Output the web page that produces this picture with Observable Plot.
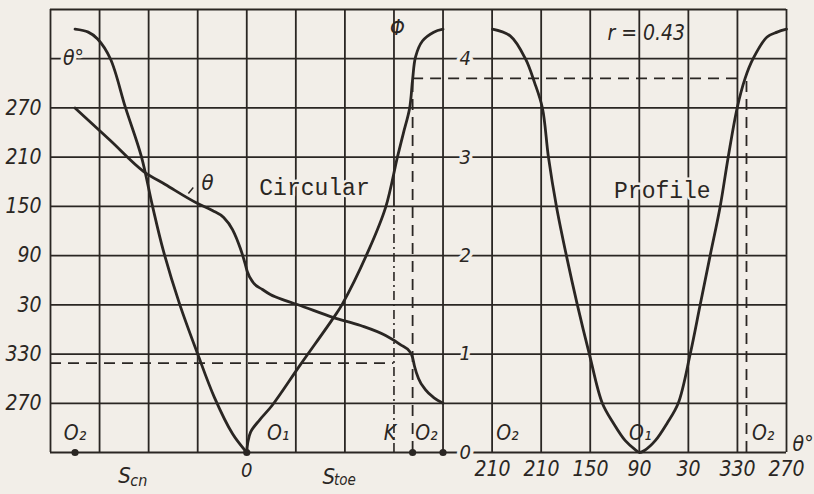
<!DOCTYPE html>
<html>
<head>
<meta charset="utf-8">
<script src="https://cdn.jsdelivr.net/npm/d3@7"></script>
<script src="https://cdn.jsdelivr.net/npm/@observablehq/plot@0.6"></script>
<style>
  body { margin: 0; background: #f2eee8; }
  #chart { position: relative; width: 814px; height: 494px; background: #f2eee8; }
  #chart svg { position: absolute; left: 0; top: 0; }
</style>
</head>
<body>
<div id="chart"></div>
<script>
// ---------- data ----------
// Circular cam: Phi vs stroke S (two branches meeting at O)
const circPhiLeftS  = [-3.5, -3.23, -3.04, -2.78, -2.47, -2.15, -1.92, -1.70, -1.37, -1.00, -0.66, -0.29, 0];
const circPhiLeft   = [4.30, 4.27, 4.20, 4.00, 3.50, 3.01, 2.50, 2.05, 1.51, 1.00, 0.56, 0.19, 0];
const circPhiRightS = [0, 0.02, 0.08, 0.26, 0.52, 1.09, 1.77, 1.95, 2.48, 2.83, 3.07, 3.19, 3.32, 3.38, 3.44, 3.58, 3.81, 4.0];
const circPhiRight  = [0, 0.10, 0.21, 0.33, 0.48, 0.89, 1.37, 1.51, 2.05, 2.49, 3.00, 3.24, 3.50, 3.79, 4.02, 4.18, 4.27, 4.30];
// Circular cam: theta (deg) vs stroke S
const circThetaS = [-3.5, -2.78, -2.10, -1.66, -1.00, -0.70, -0.47, -0.29, -0.13, -0.04, 0.01, 0.13, 0.32, 0.48, 0.79, 1.03, 1.77, 2.32, 2.83, 3.13, 3.32, 3.38, 3.42, 3.50, 3.64, 3.81, 4.0];
const circTheta  = [270, 230.3, 192.5, 176.7, 153.5, 145.0, 136.4, 121.8, 98.6, 81.6, 70.6, 57.2, 48.7, 42.6, 35.2, 30.4, 14.5, 4.8, -7.4, -18.4, -26.9, -34.3, -45.2, -59.9, -73.3, -83.0, -90];
// Profile cam: Phi vs theta (deg, unwrapped 270 -> -90)
const profTheta = [270, 248.0, 229.7, 218.6, 208.9, 201.5, 191.7, 179.5, 166.1, 151.4, 135.5, 122.1, 107.4, 93.9, 90, 84, 70.7, 56.0, 42.6, 27.9, 15.7, 3.5, -8.8, -18.6, -29.6, -39.3, -49.1, -66.2, -78.5, -90];
const profPhi   = [4.30, 4.23, 4.00, 3.76, 3.50, 3.00, 2.50, 2.00, 1.50, 1.00, 0.50, 0.30, 0.12, 0.02, 0, 0.02, 0.12, 0.30, 0.50, 1.00, 1.50, 2.00, 2.50, 3.00, 3.50, 3.80, 4.00, 4.22, 4.27, 4.30];

// Axis ticks and labels
const thetaTicks = [270, 210, 150, 90, 30, -30, -90];
const thetaTickLabels = ["270", "210", "150", "90", "30", "330", "270"];
const phiTicks = [0, 1, 2, 3, 4];
const phiTickLabels = ["0", "1", "2", "3", "4"];
const profTicks = [270, 210, 150, 90, 30, -30, -90];
const profTickLabels = ["210", "210", "150", "90", "30", "330", "270"];

// Marked points on stroke axis and their labels
const markedS = [-3.5, 0, 3.38, 4];
const circPointLabelS = [-3.5, 0.64, 2.92, 3.66];
const circPointLabels = ["O\u2082", "O\u2081", "K", "O\u2082"];
const profPointLabelTheta = [251.7, 89, -61.4];
const profPointLabels = ["O\u2082", "O\u2081", "O\u2082"];

// Graphical read-out (dashed construction)
const readoutS = 3.38, readoutPhi = 3.80, readoutTheta = -41, kLineS = 3;
const r = 0.43;

// ---------- layout / style ----------
const W = 814, H = 494, MT = 9, MB = 42, ML = 50, MR = 28, PROF_L = 492;
const ink = "#2a2623", paper = "#f2eee8";
const italicFont = "'Liberation Sans Narrow','DejaVu Sans Condensed','Liberation Sans',sans-serif";
const monoFont = "'Liberation Mono','DejaVu Sans Mono',monospace";
const svgStyle = {background: "transparent", overflow: "visible"};
const zip = (xs, ys) => xs.map((x, i) => ({x, y: ys[i]}));
const lbl = (xs, ys, ts) => xs.map((x, i) => ({x, y: Array.isArray(ys) ? ys[i] : ys, t: ts[i]}));

const gridS = d3.range(-4, 12).filter(s => s !== kLineS);
const gridPhi = d3.range(0, 4.51, 0.5);

// ---------- Plot 1: grid, circular Phi(S), Phi axis ----------
const base = Plot.plot({
  width: W, height: H, marginTop: MT, marginBottom: MB, marginLeft: ML, marginRight: MR,
  x: {domain: [-4, 11], axis: null}, y: {domain: [0, 4.5], axis: null},
  style: svgStyle,
  marks: [
    Plot.ruleX(gridS, {y1: 0, y2: 4.5, stroke: ink, strokeWidth: 1.8}),
    Plot.ruleX([kLineS], {y1: 2.5, y2: 4.5, stroke: ink, strokeWidth: 1.8}),
    Plot.ruleX([kLineS], {y1: 0, y2: 2.5, stroke: ink, strokeWidth: 1.6, strokeDasharray: "9,4,2,4"}),
    Plot.ruleY(gridPhi, {x1: -4, x2: 11, stroke: ink, strokeWidth: 1.8}),
    // dashed read-out lines
    Plot.ruleX([readoutS], {y1: 0, y2: readoutPhi, stroke: ink, strokeWidth: 1.8, strokeDasharray: "11,7"}),
    Plot.ruleY([readoutPhi], {x1: readoutS, x2: 5, stroke: ink, strokeWidth: 1.8, strokeDasharray: "11,7"}),
    // Phi(S) curve
    Plot.line(zip(circPhiLeftS, circPhiLeft), {x: "x", y: "y", curve: "catmull-rom", stroke: ink, strokeWidth: 2.8}),
    Plot.line(zip(circPhiRightS, circPhiRight), {x: "x", y: "y", curve: "catmull-rom", stroke: ink, strokeWidth: 2.8}),
    Plot.dot(markedS, {x: d => d, y: 0, r: 3.6, fill: ink, stroke: null}),
    // Phi axis labels in the middle column
    Plot.text(lbl(phiTicks.map(() => 4.45), phiTicks, phiTickLabels), {x: "x", y: "y", text: "t", fontSize: 20, fontStyle: "italic", fontFamily: italicFont, fill: ink, stroke: paper, strokeWidth: 7}),
    Plot.text(["\u03a6"], {x: 3.07, y: 4.31, text: d => d, fontSize: 21, fontStyle: "italic", fontFamily: italicFont, fill: ink}),
    Plot.text(["Circular"], {x: 1.38, y: 2.69, text: d => d, fontSize: 23, fontFamily: monoFont, fill: ink, stroke: paper, strokeWidth: 5}),
    Plot.text(lbl(circPointLabelS, 0.2, circPointLabels), {x: "x", y: "y", text: "t", fontSize: 21, fontStyle: "italic", fontFamily: italicFont, fill: ink}),
    // stroke-axis labels
    Plot.text(["0"], {x: 0, y: 0, dy: 18, text: d => d, fontSize: 20, fontStyle: "italic", fontFamily: italicFont, fill: ink}),
    Plot.text(["S"], {x: -2.49, y: 0, dy: 23, text: d => d, fontSize: 22, fontStyle: "italic", fontFamily: italicFont, fill: ink}),
    Plot.text(["cn"], {x: -2.2, y: 0, dy: 28, text: d => d, fontSize: 16, fontStyle: "italic", fontFamily: italicFont, fill: ink}),
    Plot.text(["S"], {x: 1.67, y: 0, dy: 24, text: d => d, fontSize: 22, fontStyle: "italic", fontFamily: italicFont, fill: ink}),
    Plot.text(["toe"], {x: 2.0, y: 0, dy: 28, text: d => d, fontSize: 15, fontStyle: "italic", fontFamily: italicFont, fill: ink})
  ]
});

// ---------- Plot 2: circular theta(S) with left theta axis ----------
const thetaPlot = Plot.plot({
  width: W, height: H, marginTop: MT, marginBottom: MB, marginLeft: ML, marginRight: MR,
  x: {domain: [-4, 11], axis: null}, y: {domain: [-150, 390], axis: null},
  style: svgStyle,
  marks: [
    Plot.ruleY([readoutTheta], {x1: -4, x2: kLineS, stroke: ink, strokeWidth: 1.8, strokeDasharray: "11,7"}),
    Plot.line(zip(circThetaS, circTheta), {x: "x", y: "y", curve: "monotone-x", stroke: ink, strokeWidth: 2.8}),
    Plot.text(lbl(thetaTicks.map(() => -4), thetaTicks, thetaTickLabels), {x: "x", y: "y", text: "t", dx: -9, textAnchor: "end", fontSize: 21, fontStyle: "italic", fontFamily: italicFont, fill: ink}),
    Plot.text(["\u03b8\u00b0"], {x: -3.53, y: 330, text: d => d, fontSize: 21, fontStyle: "italic", fontFamily: italicFont, fill: ink, stroke: paper, strokeWidth: 6}),
    Plot.link([{x1: -1.19, y1: 165.7, x2: -1.09, y2: 173}], {x1: "x1", y1: "y1", x2: "x2", y2: "y2", stroke: ink, strokeWidth: 1.4}),
    Plot.text(["\u03b8"], {x: -0.80, y: 178, text: d => d, fontSize: 22, fontStyle: "italic", fontFamily: italicFont, fill: ink})
  ]
});

// ---------- Plot 3: profile Phi(theta) ----------
const profPlot = Plot.plot({
  width: W, height: H, marginTop: MT, marginBottom: MB, marginLeft: PROF_L, marginRight: MR,
  x: {domain: [270, -90], axis: null}, y: {domain: [0, 4.5], axis: null},
  style: svgStyle,
  marks: [
    Plot.ruleY([readoutPhi], {x1: 270, x2: readoutTheta, stroke: ink, strokeWidth: 1.8, strokeDasharray: "11,7"}),
    Plot.ruleX([readoutTheta], {y1: 0, y2: readoutPhi, stroke: ink, strokeWidth: 1.8, strokeDasharray: "11,7"}),
    Plot.line(zip(profTheta, profPhi), {x: "x", y: "y", curve: "catmull-rom", stroke: ink, strokeWidth: 2.8}),
    Plot.text(lbl(profTicks, 0, profTickLabels), {x: "x", y: "y", text: "t", dy: 17, fontSize: 21, fontStyle: "italic", fontFamily: italicFont, fill: ink}),
    Plot.text(lbl(profPointLabelTheta, 0.2, profPointLabels), {x: "x", y: "y", text: "t", fontSize: 21, fontStyle: "italic", fontFamily: italicFont, fill: ink}),
    Plot.text(["Profile"], {x: 62, y: 2.66, text: d => d, fontSize: 23, fontFamily: monoFont, fill: ink, stroke: paper, strokeWidth: 5}),
    Plot.text([`r = ${r}`], {x: 81.7, y: 4.26, text: d => d, fontSize: 21, fontStyle: "italic", fontFamily: italicFont, fill: ink, stroke: paper, strokeWidth: 5}),
    Plot.text(["\u03b8\u00b0"], {x: -110.3, y: 0.08, text: d => d, fontSize: 21, fontStyle: "italic", fontFamily: italicFont, fill: ink})
  ]
});

const chart = document.getElementById("chart");
chart.append(base, thetaPlot, profPlot);
</script>
</body>
</html>
